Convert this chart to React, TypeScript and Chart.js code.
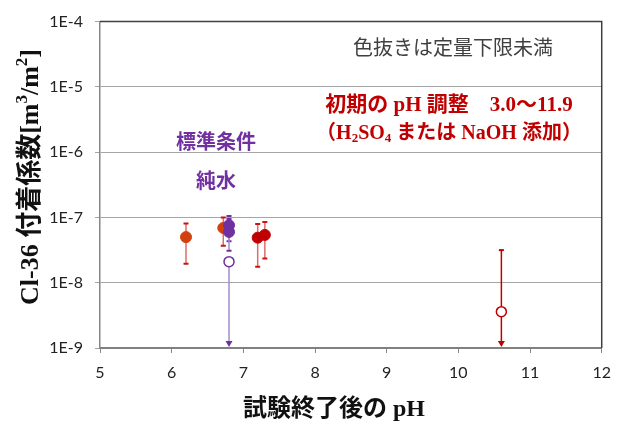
import React, { useEffect, useRef } from "react";
import { Chart, registerables } from "chart.js";

Chart.register(...registerables);

// ---- data ----
const orangePH = [6.2, 6.72];
const orangeVal = [5.0e-8, 6.9e-8];
const orangeLo = [1.95e-8, 3.7e-8];
const orangeHi = [8.1e-8, 1.0e-7];

const purplePH = [6.8, 6.8];
const purpleVal = [7.6e-8, 6.0e-8];
const purpleLo = [4.3e-8, 3.1e-8];
const purpleHi = [1.05e-7, 9.5e-8];

const redPH = [7.2, 7.3];
const redVal = [4.9e-8, 5.4e-8];
const redLo = [1.75e-8, 2.35e-8];
const redHi = [7.9e-8, 8.5e-8];

const purpleOpenPH = [6.8];
const purpleOpenVal = [2.1e-8];

const redOpenPH = [10.6];
const redOpenVal = [3.6e-9];
const redOpenHi = [3.16e-8];

const yTickValues = [1e-9, 1e-8, 1e-7, 1e-6, 1e-5, 1e-4];
const yTickLabels = ["1E-9", "1E-8", "1E-7", "1E-6", "1E-5", "1E-4"];

const xTitle = "試験終了後の pH";
const noteText = "色抜きは定量下限未満";
const pHNote1 = "初期の pH 調整　3.0～11.9";
const standardText = "標準条件";
const pureWaterText = "純水";

const ORANGE = "#D24010";
const RED = "#C00000";
const PURPLE = "#7030A0";

const SERIF = '"Liberation Serif", "Noto Sans CJK JP", serif';
const CJK = '"Noto Sans CJK JP", sans-serif';

type Seg = { t: string; size: number; dy?: number; font?: string; weight?: string };

function drawRich(ctx: CanvasRenderingContext2D, segs: Seg[], cx: number, cy: number, color: string) {
  ctx.save();
  ctx.fillStyle = color;
  ctx.textBaseline = "middle";
  ctx.textAlign = "left";
  let total = 0;
  const widths: number[] = [];
  for (const s of segs) {
    ctx.font = `${s.weight ?? "bold"} ${s.size}px ${s.font ?? SERIF}`;
    const w = ctx.measureText(s.t).width;
    widths.push(w);
    total += w;
  }
  let x = cx - total / 2;
  segs.forEach((s, i) => {
    ctx.font = `${s.weight ?? "bold"} ${s.size}px ${s.font ?? SERIF}`;
    ctx.fillText(s.t, x, cy + (s.dy ?? 0));
    x += widths[i];
  });
  ctx.restore();
}

const errorPlugin = {
  id: "errorBars",
  beforeDatasetsDraw(chart: any) {
    const ctx: CanvasRenderingContext2D = chart.ctx;
    const ys = chart.scales.y;
    chart.data.datasets.forEach((ds: any, i: number) => {
      const meta = chart.getDatasetMeta(i);
      meta.data.forEach((pt: any, j: number) => {
        const x = pt.x;
        const y = pt.y;
        ctx.save();
        ctx.lineWidth = 1.5;
        if (ds.errLo || ds.errHi) {
          const hiV = ds.errHi ? ds.errHi[j] : null;
          const loV = ds.errLo ? ds.errLo[j] : null;
          const top = hiV != null ? ys.getPixelForValue(hiV) : y;
          const bot = loV != null ? ys.getPixelForValue(loV) : y;
          ctx.strokeStyle = ds.errColor;
          ctx.beginPath();
          ctx.moveTo(x, top);
          ctx.lineTo(x, bot);
          ctx.stroke();
          ctx.strokeStyle = ds.capColor;
          ctx.lineWidth = 2;
          ctx.beginPath();
          if (hiV != null) {
            ctx.moveTo(x - 2.5, top);
            ctx.lineTo(x + 2.5, top);
          }
          if (loV != null) {
            ctx.moveTo(x - 2.5, bot);
            ctx.lineTo(x + 2.5, bot);
          }
          ctx.stroke();
        }
        if (ds.arrow) {
          const base = ys.getPixelForValue(ys.min);
          ctx.strokeStyle = ds.errColor;
          ctx.lineWidth = 1.5;
          ctx.beginPath();
          ctx.moveTo(x, y);
          ctx.lineTo(x, base - 6);
          ctx.stroke();
          ctx.fillStyle = ds.capColor;
          ctx.beginPath();
          ctx.moveTo(x - 3.5, base - 7);
          ctx.lineTo(x + 3.5, base - 7);
          ctx.lineTo(x, base - 1);
          ctx.closePath();
          ctx.fill();
        }
        ctx.restore();
      });
    });
  },
  afterDraw(chart: any) {
    const ctx: CanvasRenderingContext2D = chart.ctx;
    const a = chart.chartArea;
    // frame top & right
    ctx.save();
    ctx.strokeStyle = "#404040";
    ctx.lineWidth = 1.5;
    ctx.beginPath();
    ctx.moveTo(a.left, a.top);
    ctx.lineTo(a.right, a.top);
    ctx.lineTo(a.right, a.bottom);
    ctx.stroke();
    ctx.restore();

    // y title
    ctx.save();
    ctx.translate(31, 177);
    ctx.rotate(-Math.PI / 2);
    drawRich(
      ctx,
      [
        { t: "Cl-36 付着係数[m", size: 26 },
        { t: "3", size: 17, dy: -8 },
        { t: "/m", size: 26 },
        { t: "2", size: 17, dy: -8 },
        { t: "]", size: 26 },
      ],
      0,
      0,
      "#111"
    );
    ctx.restore();

    // x title
    drawRich(ctx, [{ t: xTitle, size: 24 }], 334, 410, "#111");

    // note
    drawRich(ctx, [{ t: noteText, size: 20, font: CJK, weight: "normal" }], 453, 47, "#404040");

    // pH notes
    drawRich(ctx, [{ t: pHNote1, size: 21 }], 449, 106, RED);
    drawRich(
      ctx,
      [
        { t: "（H", size: 20 },
        { t: "2", size: 13, dy: 5 },
        { t: "SO", size: 20 },
        { t: "4", size: 13, dy: 5 },
        { t: " または NaOH 添加）", size: 20 },
      ],
      449,
      134,
      RED
    );

    drawRich(ctx, [{ t: standardText, size: 20, font: CJK }], 216, 141, PURPLE);
    drawRich(ctx, [{ t: pureWaterText, size: 20, font: CJK }], 216, 180, PURPLE);
  },
};

function pts(xs: number[], ys: number[]) {
  return xs.map((x, i) => ({ x, y: ys[i] }));
}

export default function App() {
  const ref = useRef<HTMLCanvasElement | null>(null);
  useEffect(() => {
    document.body.style.margin = "0";
    if (!ref.current) return;
    const chart = new Chart(ref.current, {
      type: "scatter",
      data: {
        datasets: [
          {
            data: pts(purplePH, purpleVal),
            backgroundColor: PURPLE,
            borderColor: PURPLE,
            pointRadius: 5.5,
            errLo: purpleLo,
            errHi: purpleHi,
            errColor: "#A68BD0",
            capColor: PURPLE,
            order: 0,
          } as any,
          {
            data: pts(purpleOpenPH, purpleOpenVal),
            backgroundColor: "#ffffff",
            borderColor: PURPLE,
            borderWidth: 1.5,
            pointRadius: 5,
            arrow: true,
            errColor: "#A68BD0",
            capColor: PURPLE,
            order: 1,
          } as any,
          {
            data: pts(orangePH, orangeVal),
            backgroundColor: ORANGE,
            borderColor: ORANGE,
            pointRadius: 5.5,
            errLo: orangeLo,
            errHi: orangeHi,
            errColor: "#E06A6A",
            capColor: "#D01010",
            order: 3,
          } as any,
          {
            data: pts(redPH, redVal),
            backgroundColor: RED,
            borderColor: RED,
            pointRadius: 5.5,
            errLo: redLo,
            errHi: redHi,
            errColor: "#E06A6A",
            capColor: "#D01010",
            order: 2,
          } as any,
          {
            data: pts(redOpenPH, redOpenVal),
            backgroundColor: "#ffffff",
            borderColor: RED,
            borderWidth: 1.5,
            pointRadius: 5,
            errHi: redOpenHi,
            arrow: true,
            errColor: RED,
            capColor: RED,
            order: 4,
          } as any,
        ],
      },
      options: {
        animation: false,
        responsive: false,
        layout: { padding: { left: 0, right: 17, top: 18, bottom: 0 } },
        plugins: { legend: { display: false }, tooltip: { enabled: false } },
        scales: {
          x: {
            type: "linear",
            min: 5,
            max: 12,
            ticks: {
              stepSize: 1,
              padding: 10,
              color: "#222",
              font: { family: "Lato", size: 16 },
            },
            grid: { drawOnChartArea: false, drawTicks: true, tickLength: 5, color: "#868686" },
            border: { color: "#808080", width: 2 },
            afterFit: (s: any) => {
              s.height = 77;
            },
          },
          y: {
            type: "logarithmic",
            min: 1e-9,
            max: 1e-4,
            afterBuildTicks: (s: any) => {
              s.ticks = yTickValues.map((v) => ({ value: v }));
            },
            ticks: {
              padding: 12,
              color: "#222",
              font: { family: "Lato", size: 16 },
              callback: (v: any) => {
                const i = yTickValues.findIndex((t) => Math.abs(Math.log10(t) - Math.log10(v)) < 1e-6);
                return i >= 0 ? yTickLabels[i] : "";
              },
            },
            grid: { color: "#A6A6A6", tickLength: 5, lineWidth: 1 },
            border: { color: "#868686", width: 1.5 },
            afterFit: (s: any) => {
              s.width = 100;
            },
          },
        },
      } as any,
      plugins: [errorPlugin],
    });
    return () => chart.destroy();
  }, []);
  return <canvas ref={ref} width={621} height={425} style={{ display: "block" }} />;
}
